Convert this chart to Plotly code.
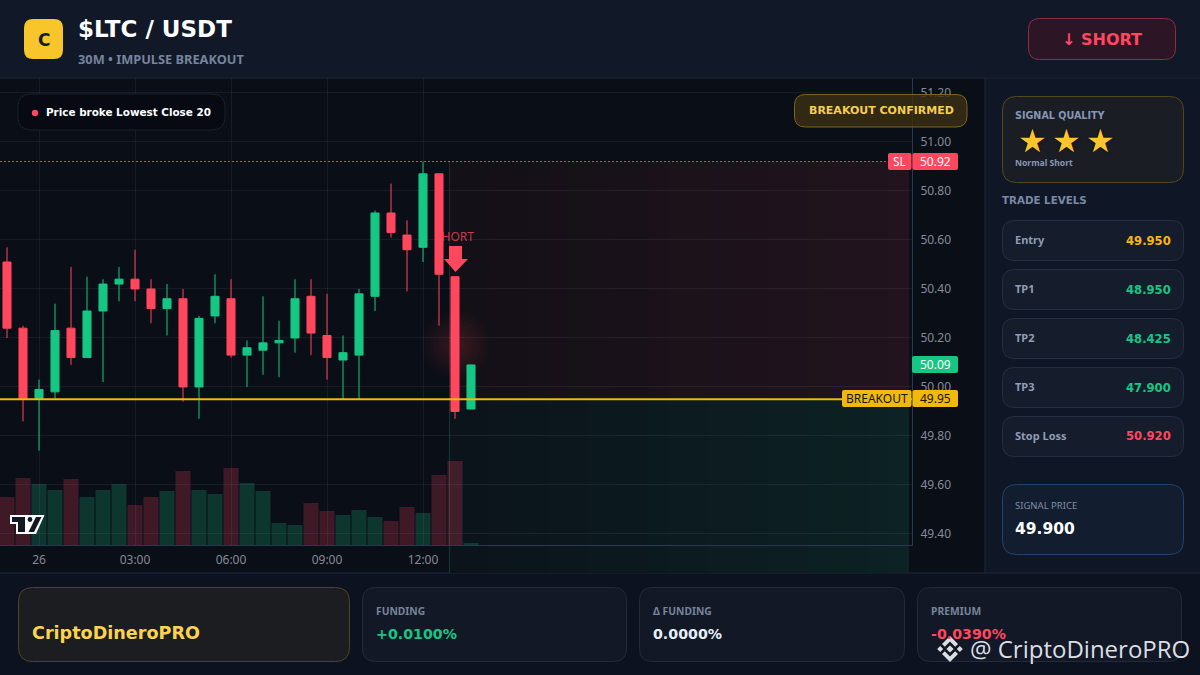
import pandas as pd
import plotly.graph_objects as go

# ---------- data ----------
opens = [50.51,50.24,49.95,49.98,50.24,50.12,50.31,50.42,50.44,50.40,50.32,50.36,50.00,50.29,50.36,50.13,50.15,50.18,50.20,50.37,50.21,50.11,50.13,50.37,50.71,50.62,50.57,50.87,50.45,49.91]
closes = [50.24,49.95,49.99,50.23,50.12,50.31,50.42,50.44,50.40,50.32,50.36,50.00,50.28,50.37,50.13,50.16,50.18,50.19,50.36,50.22,50.12,50.14,50.38,50.71,50.63,50.56,50.87,50.46,49.90,50.09]
highs = [50.57,50.25,50.03,50.34,50.49,50.45,50.44,50.49,50.56,50.44,50.42,50.40,50.29,50.46,50.44,50.19,50.37,50.27,50.44,50.44,50.38,50.21,50.40,50.72,50.83,50.68,50.92,50.87,50.45,50.09]
lows = [50.20,49.86,49.74,49.95,50.09,50.12,50.02,50.35,50.35,50.26,50.21,49.94,49.87,50.26,50.12,50.00,50.05,50.04,50.14,50.13,50.03,49.95,49.95,50.31,50.61,50.39,50.51,50.25,49.87,49.91]
volumes = [48,67,61,55,66,48,55,61,40,48,54,74,55,51,77,62,54,22,20,42,34,30,35,28,24,38,32,70,84,2]
price_ticks = [49.4,49.6,49.8,50.0,50.2,50.4,50.6,50.8,51.0,51.2]
time_tick_labels = ["26","03:00","06:00","09:00","12:00"]
sl_price = 50.92
breakout_price = 49.95
last_price = 50.09
trade_levels = [("Entry","49.950","#fbb70b"),("TP1","48.950","#16c784"),("TP2","48.425","#16c784"),("TP3","47.900","#16c784"),("Stop Loss","50.920","#ff475e")]
footer_cards = [("FUNDING","+0.0100%","#16c784",376),("Δ FUNDING","0.0000%","#e6f1fb",653),("PREMIUM","-0.0390%","#ff475e",931)]

RED, GREEN, GOLD = "#ff475e", "#16c784", "#f0b90b"
BOLD = "DejaVu Sans"
REG = "Noto Sans"
W, H = 1200, 675
px = lambda x: x / W
py = lambda y: 1 - y / H

t0 = pd.Timestamp("2025-10-26 00:00")
step = pd.Timedelta(minutes=30)
times = [t0 + step * (i - 2) for i in range(len(opens))]
tick_times = [t0 + step * 6 * i for i in range(len(time_tick_labels))]
x_range = [t0 - step * (39 / 16), t0 + step * ((912 - 39) / 16)]

shapes, annots = [], []

def rrect(x0, y0, x1, y1, r):
    return (f"M{px(x0+r)},{py(y0)} L{px(x1-r)},{py(y0)} Q{px(x1)},{py(y0)} {px(x1)},{py(y0+r)} "
            f"L{px(x1)},{py(y1-r)} Q{px(x1)},{py(y1)} {px(x1-r)},{py(y1)} L{px(x0+r)},{py(y1)} "
            f"Q{px(x0)},{py(y1)} {px(x0)},{py(y1-r)} L{px(x0)},{py(y0+r)} Q{px(x0)},{py(y0)} {px(x0+r)},{py(y0)} Z")

def card(x0, y0, x1, y1, r, fill, line, layer="below", lw=1):
    shapes.append(dict(type="path", xref="paper", yref="paper", path=rrect(x0, y0, x1, y1, r),
                       fillcolor=fill, line=dict(color=line, width=lw), layer=layer))

def rect(x0, y0, x1, y1, fill, layer="below"):
    shapes.append(dict(type="rect", xref="paper", yref="paper", x0=px(x0), x1=px(x1), y0=py(y1), y1=py(y0),
                       fillcolor=fill, line=dict(width=0), layer=layer))

def poly(points, fill, layer="above", line=None, lw=0):
    p = "M" + " L".join(f"{px(a)},{py(b)}" for a, b in points) + " Z"
    shapes.append(dict(type="path", xref="paper", yref="paper", path=p, fillcolor=fill,
                       line=dict(color=line or fill, width=lw), layer=layer))

def circle(cx, cy, r, fill, layer="below"):
    shapes.append(dict(type="circle", xref="paper", yref="paper", x0=px(cx-r), x1=px(cx+r), y0=py(cy+r), y1=py(cy-r),
                       fillcolor=fill, line=dict(width=0), layer=layer))

def text(x, y, s, size, color, bold=False, anchor="left", family=None):
    annots.append(dict(xref="paper", yref="paper", x=px(x), y=py(y), text=f"<b>{s}</b>" if bold else s,
                       showarrow=False, xanchor=anchor, yanchor="middle", borderpad=0, borderwidth=0,
                       font=dict(size=size, color=color, family=family or (BOLD if bold else REG))))

# ---------- page panels ----------
rect(0, 0, W, 78, "#111827")
rect(0, 78, 985, 573, "#0a0e17")
rect(985, 78, W, 573, "#0f1726")
rect(0, 573, W, H, "#0d1220")
rect(0, 77.5, W, 78.5, "#1e2738")
rect(0, 572.5, W, 573.5, "#1e2738")
rect(984.5, 78, 985.5, 573, "#1e2738")

# ---------- trade zones ----------
zx0, zw, n = 449, 20, 23
for i in range(n):
    f = i / (n - 1)
    a = zx0 + zw * i
    b = a + zw
    rect(a, 161, b, 398, f"rgb({int(20+14*f)},{int(16+4*f)},{int(23+7*f)})")
    rect(a, 398, b, 573, f"rgb({int(11+2*f)},{int(20+14*f)},{int(27+9*f)})")
rect(449, 161, 450, 398, "#2a2530")
rect(449, 398, 450, 573, "#1a3538")
for r in [34, 30, 26, 22, 18, 14, 10, 6]:
    circle(455, 345, r, "rgba(255,71,94,0.022)")

# SHORT label sits below the traces so the neighbouring candle overlaps it
shapes.append(dict(type="rect", xref="paper", yref="paper", x0=px(435.5), x1=px(473.5), y0=py(243), y1=py(231),
                   fillcolor="rgba(0,0,0,0)", line=dict(width=0), layer="below",
                   label=dict(text="SHORT", font=dict(size=12, color="rgba(255,71,94,0.75)", family=REG),
                              textposition="middle center")))

# ---------- price lines ----------
shapes.append(dict(type="line", xref="paper", yref="y2", x0=0, x1=px(888), y0=sl_price, y1=sl_price,
                   line=dict(color="#e0485f", width=1, dash="2px,2px"), layer="above"))
shapes.append(dict(type="line", xref="paper", yref="y2", x0=0, x1=px(912), y0=breakout_price, y1=breakout_price,
                   line=dict(color=GOLD, width=2), layer="above"))

# arrow
poly([(449,246),(462,246),(462,259),(468,259),(455.5,272),(444,259),(449,259)], RED)

# ---------- chart pills ----------
card(18, 94, 225, 130, 13, "#070a12", "#1b2130", layer="above")
circle(35, 113, 3.2, RED, layer="above")
text(46, 112.5, "Price broke Lowest Close 20", 10.4, "#ffffff", True)
card(794.5, 94.5, 967, 127, 11, "rgba(60,48,20,0.82)", "#7a6420", layer="above")
text(881, 111, "BREAKOUT CONFIRMED", 11, "#f5cf4d", True, "center")

# ---------- price tags ----------
card(888, 153, 911.5, 170, 2, RED, RED, "above", 0)
card(912.5, 153, 958, 170, 2, RED, RED, "above", 0)
text(899.5, 161.5, "SL", 12, "#ffffff", False, "center")
text(935, 161.5, "50.92", 12, "#ffffff", False, "center")
card(912, 356, 958, 373, 2, GREEN, GREEN, "above", 0)
text(935, 364.5, "50.09", 12, "#ffffff", False, "center")
card(842, 390, 911.5, 407, 2, GOLD, GOLD, "above", 0)
card(912.5, 390, 958, 407, 2, GOLD, GOLD, "above", 0)
text(877, 398.5, "BREAKOUT", 12, "#1a1405", False, "center")
text(935, 398.5, "49.95", 12, "#1a1405", False, "center")

# ---------- TV logo ----------
poly([(10,515),(44.5,515),(36,534),(16,534),(16,524),(10,524)], "#ffffff")
poly([(12,517),(25,517),(25,532),(18,532),(18,522),(12,522)], "#131722")
poly([(36,517),(41.5,517),(34,532),(28.5,532)], "#131722")
circle(30, 519.5, 2.4, "#131722", layer="above")

# ---------- header ----------
card(24, 19, 63, 59, 9, "#f8c62a", "#f8c62a", lw=0)
text(43.5, 39.5, "C", 17, "#141b2c", True, "center")
text(78, 29, "$LTC / USDT", 23, "#ffffff", True)
text(78, 59, "30M • IMPULSE BREAKOUT", 12.8, "#76849c", True, family=REG)
card(1028.5, 18.5, 1175.5, 59.5, 11, "#2c1626", "#8f2d40")
text(1102, 40, "↓ SHORT", 16, RED, True, "center")

# ---------- right panel ----------
card(1002.5, 96.5, 1183.5, 182.5, 14, "#1a1d24", "#55481f")
text(1015, 116, "SIGNAL QUALITY", 9.6, "#8696b4", True)
for cx in [1032, 1066, 1100]:
    annots.append(dict(xref="paper", yref="paper", x=px(cx), y=py(141), text="★", showarrow=False,
                       xanchor="center", yanchor="middle", borderwidth=0, borderpad=0,
                       font=dict(size=32, color="#fcc52e", family="DejaVu Sans", shadow="0 0 2px #000")))
text(1015, 163, "Normal Short", 8.6, "#8696b4", True, family=REG)
text(1002, 200, "TRADE LEVELS", 10.3, "#7a89a3", True)
for i, (label, value, col) in enumerate(trade_levels):
    y0 = 220 + 49 * i
    card(1002.5, y0 + .5, 1183.5, y0 + 40.5, 12, "#151c2b", "#233044")
    text(1015, y0 + 19.5, label, 11, "#8f9db5", True, family=REG)
    text(1171, y0 + 20.5, value, 11.6, col, True, "right")
card(1002.5, 484.5, 1183.5, 554.5, 14, "#131d30", "#24436a")
text(1015, 505.5, "SIGNAL PRICE", 9.5, "#7f8ea8")
text(1015, 529, "49.900", 15.5, "#ffffff", True)

# ---------- footer ----------
card(18.5, 587.5, 349.5, 661.5, 14, "#1b1d20", "#4e4520")
text(32, 633, "CriptoDineroPRO", 17.6, "#fcd34d", True)
for (x0, x1), (label, value, col, tx) in zip([(362.5,626.5),(639.5,904.5),(917.5,1181.5)], footer_cards):
    card(x0, 587.5, x1, 661.5, 13, "#121826", "#202b3c")
    text(tx, 611, label, 10.3, "#76849c", True, family=REG)
    text(tx, 634, value, 14.2, col, True)

# ---------- watermark ----------
mark = "#dcdee2"
cx, cy = 950, 649
def diamond(x, y, r):
    poly([(x, y-r), (x+r, y), (x, y+r), (x-r, y)], mark)
diamond(cx, cy, 3.6)
diamond(cx-9.8, cy, 3)
diamond(cx+9.8, cy, 3)
poly([(cx,cy-13),(cx+8,cy-5),(cx+5.2,cy-2.2),(cx,cy-7.4),(cx-5.2,cy-2.2),(cx-8,cy-5)], mark)
poly([(cx,cy+13),(cx+8,cy+5),(cx+5.2,cy+2.2),(cx,cy+7.4),(cx-5.2,cy+2.2),(cx-8,cy+5)], mark)
text(970, 648.5, "@ CriptoDineroPRO", 24, mark, False, family="Open Sans")

# ---------- figure ----------
vol_colors = ["rgba(22,199,132,0.22)" if c >= o else "rgba(255,71,94,0.22)" for o, c in zip(opens, closes)]
fig = go.Figure()
fig.add_trace(go.Bar(x=times, y=volumes, marker=dict(color=vol_colors, line=dict(width=0)),
                     yaxis="y", xaxis="x", showlegend=False))
fig.add_trace(go.Candlestick(x=times, open=opens, high=highs, low=lows, close=closes, yaxis="y2", xaxis="x",
                             increasing=dict(line=dict(color=GREEN, width=1), fillcolor=GREEN),
                             decreasing=dict(line=dict(color=RED, width=1), fillcolor=RED),
                             whiskerwidth=0, showlegend=False))
grid = "rgba(200,210,230,0.08)"
fig.update_layout(
    width=W, height=H, margin=dict(l=0, r=0, t=0, b=0), autosize=False,
    paper_bgcolor="#0a0e17", plot_bgcolor="rgba(0,0,0,0)", showlegend=False,
    bargap=0.06, boxgap=0.28, shapes=shapes, annotations=annots,
    font=dict(family=REG),
    xaxis=dict(domain=[0, 912 / W], range=x_range, type="date", rangeslider=dict(visible=False),
               tickmode="array", tickvals=tick_times, ticktext=time_tick_labels, showgrid=True, gridcolor=grid, gridwidth=1,
               showline=True, linecolor="#2c3850", linewidth=1, zeroline=False,
               tickfont=dict(size=12, color="#868b98", family=REG), ticks="outside", ticklen=4, tickcolor="rgba(0,0,0,0)",
               anchor="y"),
    yaxis=dict(domain=[py(545), py(78)], range=[0, 467], visible=False, fixedrange=True),
    yaxis2=dict(overlaying="y", side="right", anchor="x", range=[49.355, 51.261],
                tickmode="array", tickvals=price_ticks, tickformat=".2f", showgrid=True, gridcolor=grid, gridwidth=1,
                showline=True, linecolor="#2c3850", linewidth=1, zeroline=False,
                tickfont=dict(size=12, color="#868b98", family=REG), ticks="outside", ticklen=5, tickcolor="rgba(0,0,0,0)"),
)
fig.write_html("out.html", config=dict(displayModeBar=False),
               post_script="document.body.style.margin='0';document.body.style.background='#0a0e17';document.documentElement.style.overflow='hidden';")
